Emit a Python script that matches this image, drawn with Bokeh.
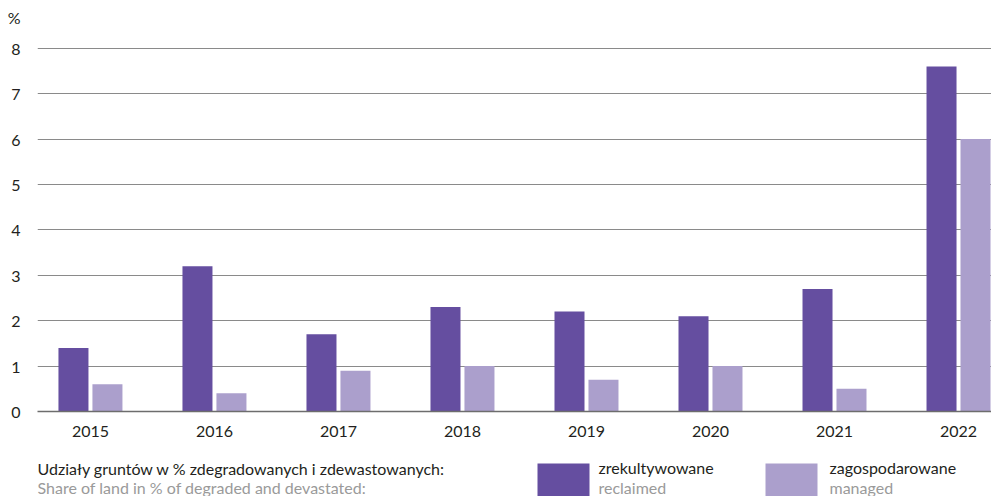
from bokeh.plotting import figure
from bokeh.models import ColumnDataSource, Range1d, FixedTicker
from bokeh.layouts import column
from bokeh.transform import dodge
from bokeh.core.properties import value
from bokeh.embed import file_html
from bokeh.resources import INLINE

years = ["2015", "2016", "2017", "2018", "2019", "2020", "2021", "2022"]
reclaimed = [1.4, 3.2, 1.7, 2.3, 2.2, 2.1, 2.7, 7.6]
managed = [0.6, 0.4, 0.9, 1.0, 0.7, 1.0, 0.5, 6.0]
y_ticks = [0, 1, 2, 3, 4, 5, 6, 7, 8]
unit_label = "%"

FONT = "Lato"
DARK = "#654ea0"
LIGHT = "#ab9fcc"
TXT = "#231f20"
GRAY = "#9a9a9a"

idx = list(range(len(years)))
src = ColumnDataSource(dict(x=idx, reclaimed=reclaimed, managed=managed))

Y_TOP = 8.7
UNIT_POS = 8.68

p = figure(width=991, height=448, output_backend="svg", toolbar_location=None,
           x_range=Range1d(-0.427, 7.266), y_range=Range1d(0, Y_TOP),
           min_border_left=37, min_border_right=0, min_border_top=16,
           min_border_bottom=37)
p.outline_line_color = None
p.background_fill_color = "white"
p.border_fill_color = "white"

bw = 0.242
p.vbar(x=dodge("x", -0.137, range=p.x_range), top="reclaimed", width=bw,
       source=src, fill_color=DARK, line_color=None)
p.vbar(x=dodge("x", 0.137, range=p.x_range), top="managed", width=bw,
       source=src, fill_color=LIGHT, line_color=None)

p.xaxis.ticker = FixedTicker(ticks=idx)
p.xaxis.major_label_overrides = {i: y for i, y in zip(idx, years)}
p.xaxis.major_tick_line_color = None
p.xaxis.minor_tick_line_color = None
p.xaxis.axis_line_color = "#6d6d6d"
p.xaxis.axis_line_width = 1.3
p.xaxis.major_label_standoff = 8
p.xaxis.major_label_text_font = FONT
p.xaxis.major_label_text_font_size = "16px"
p.xaxis.major_label_text_color = TXT

p.yaxis.ticker = FixedTicker(ticks=y_ticks + [UNIT_POS])
p.yaxis.major_label_overrides = {UNIT_POS: unit_label}
p.yaxis.major_tick_line_color = None
p.yaxis.minor_tick_line_color = None
p.yaxis.axis_line_color = None
p.yaxis.major_label_standoff = 11
p.yaxis.major_label_text_font = FONT
p.yaxis.major_label_text_font_size = "16px"
p.yaxis.major_label_text_color = TXT

p.xgrid.grid_line_color = None
p.ygrid.ticker = FixedTicker(ticks=y_ticks)
p.ygrid.grid_line_color = "#8a8a8a"
p.ygrid.grid_line_width = 1

# legend strip (frame aligned with the chart frame: x 37..991)
lg = figure(width=991, height=48, output_backend="svg", toolbar_location=None,
            x_range=Range1d(37, 991), y_range=Range1d(48, 0),
            min_border_left=37, min_border_right=0, min_border_top=0,
            min_border_bottom=0)
lg.axis.visible = False
lg.grid.visible = False
lg.outline_line_color = None

lg.quad(left=[537, 765], right=[589, 817], top=[15, 15], bottom=[48, 48],
        fill_color=[DARK, LIGHT], line_color=None)
lg.text(x=[37, 598, 829], y=[20, 19, 19],
        text=["Udziały gruntów w % zdegradowanych i zdewastowanych:",
              "zrekultywowane", "zagospodarowane"],
        text_font=value(FONT), text_font_size="16px", text_color=TXT,
        text_baseline="middle")
lg.text(x=[37, 598, 829], y=[39, 39, 39],
        text=["Share of land in % of degraded and devastated:",
              "reclaimed", "managed"],
        text_font=value(FONT), text_font_size="16px", text_color=GRAY,
        text_baseline="middle")

layout = column(p, lg, spacing=0)
open("out.html", "w").write(file_html(layout, INLINE))
